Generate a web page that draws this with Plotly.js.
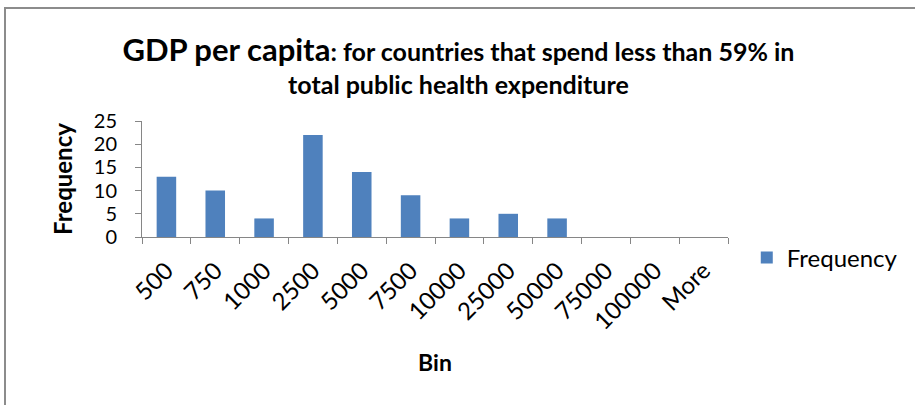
<!DOCTYPE html>
<html>
<head>
<meta charset="utf-8">
<script src="https://cdn.plot.ly/plotly-3.0.1.min.js"></script>
<style>
  body { margin: 0; background: #fff; }
  #wrap { position: relative; width: 915px; height: 405px; }
  #chart { width: 915px; height: 405px; }
  #frame { position: absolute; left: 4px; top: 7px; right: -2px; bottom: -2px;
           border-left: 2px solid #8c8c8c; border-top: 2px solid #8c8c8c; pointer-events: none; }
</style>
</head>
<body>
<div id="wrap"><div id="chart"></div><div id="frame"></div></div>
<script>
const bins = ["500", "750", "1000", "2500", "5000", "7500", "10000", "25000", "50000", "75000", "100000", "More"];
const frequency = [13, 10, 4, 22, 14, 9, 4, 5, 4, 0, 0, 0];
const yTicks = [0, 5, 10, 15, 20, 25];

const FONT = "Lato, 'Open Sans', sans-serif";

const trace = {
  type: "bar",
  x: bins,
  y: frequency,
  name: "Frequency",
  marker: { color: "#4F81BD", line: { width: 0 } },
  showlegend: true
};

const layout = {
  width: 915,
  height: 405,
  paper_bgcolor: "#ffffff",
  plot_bgcolor: "#ffffff",
  font: { family: FONT, color: "#000000", size: 18 },
  margin: { l: 142, r: 180, t: 121, b: 168 },
  bargap: 0.6,
  title: {
    text: "<b><span style='font-size:31px'>GDP per capita</span>: for countries that spend less than 59% in<br>total public health expenditure</b>",
    font: { family: FONT, size: 25, color: "#000000" },
    x: 0.54,
    xanchor: "center",
    xref: "paper",
    y: 1 - 61 / 405,
    yref: "container",
    yanchor: "middle"
  },
  xaxis: {
    type: "category",
    tickangle: -45,
    showline: true,
    linecolor: "#868686",
    linewidth: 1,
    ticks: "outside",
    tickson: "boundaries",
    ticklen: 6,
    tickcolor: "#868686",
    showgrid: false,
    zeroline: false,
    ticklabelstandoff: 9,
    tickfont: { family: FONT, size: 24, color: "#000000" },
    title: { text: "<b>Bin</b>", font: { family: FONT, size: 23, color: "#000000" }, standoff: 21 }
  },
  yaxis: {
    range: [0, 25],
    tickvals: yTicks,
    ticktext: yTicks.map(String),
    showline: true,
    linecolor: "#868686",
    linewidth: 1,
    ticks: "outside",
    ticklen: 6,
    tickcolor: "#868686",
    showgrid: false,
    zeroline: false,
    ticklabelstandoff: 14,
    tickfont: { family: FONT, size: 20, color: "#000000" },
    title: { text: "<b>Frequency</b>", font: { family: FONT, size: 24, color: "#000000" }, standoff: 14 }
  },
  legend: {
    x: (754 - 142) / 593,
    xanchor: "left",
    y: (237 - 258) / 116,
    yanchor: "middle",
    font: { family: FONT, size: 24, color: "#000000" },
    bgcolor: "rgba(0,0,0,0)",
    itemwidth: 30
  }
};

Plotly.newPlot("chart", [trace], layout, { displayModeBar: false, staticPlot: true });
</script>
</body>
</html>
